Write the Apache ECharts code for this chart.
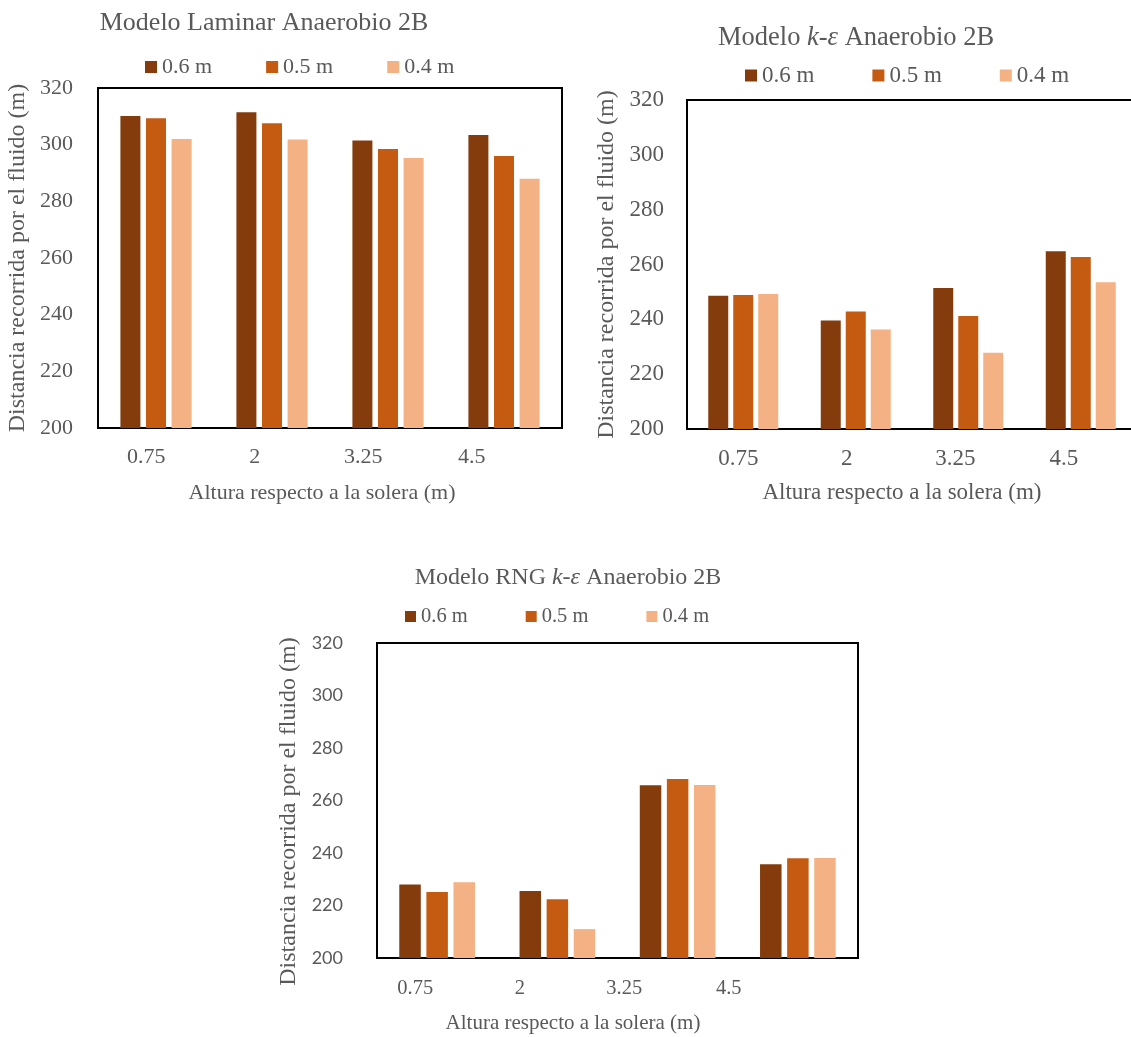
<!DOCTYPE html>
<html>
<head>
<meta charset="utf-8">
<script src="https://cdn.jsdelivr.net/npm/echarts@6/dist/echarts.min.js"></script>
<style>
  html, body { margin: 0; padding: 0; background: #fff; }
  #chart { width: 1131px; height: 1037px; }
</style>
</head>
<body>
<div id="chart"></div>
<script>
// Heights above the floor (m) at which the travelled distance was measured
const categories = ['0.75', '2', '3.25', '4.5'];
const seriesNames = ['0.6 m', '0.5 m', '0.4 m'];
const yTicks = { min: 200, max: 320, interval: 20 };

// Laminar model
const laminar06 = [310.1, 311.4, 301.5, 303.4];
const laminar05 = [309.3, 307.6, 298.5, 296.0];
const laminar04 = [302.0, 301.8, 295.3, 288.0];

// k-epsilon model
const ke06 = [248.6, 239.6, 251.4, 264.8];
const ke05 = [248.9, 242.9, 241.2, 262.7];
const ke04 = [249.2, 236.3, 227.8, 253.5];

// RNG k-epsilon model
const rng06 = [228.0, 225.5, 265.8, 235.7];
const rng05 = [225.1, 222.4, 268.2, 238.0];
const rng04 = [228.9, 211.0, 265.9, 238.1];

const colors = ['#843C0C', '#C55A11', '#F4B183'];
const serif = '"Liberation Serif", "Times New Roman", serif';
const grey = '#595959';

// Panel layout: plotting box, label band, font sizes
const panels = [
  { data: [laminar06, laminar05, laminar04], grid: { left: 98, top: 88, width: 464, height: 340 },
    labelGrid: { left: 92, width: 434 }, barWidth: 20, barGap: '28%', font: 22,
    yLabelFont: serif, yLabelSize: 22, yMargin: 25, xMargin: 18, nameGap: 68, namePad: 0 },
  { data: [ke06, ke05, ke04], grid: { left: 687, top: 100, width: 450, height: 329 },
    labelGrid: { left: 684, width: 434 }, barWidth: 20, barGap: '25%', font: 23,
    yLabelFont: serif, yLabelSize: 23, yMargin: 23, xMargin: 18, nameGap: 68, namePad: 0 },
  { data: [rng06, rng05, rng04], grid: { left: 377, top: 643, width: 481, height: 315 },
    labelGrid: { left: 363, width: 418 }, barWidth: 21.5, barGap: '26%', font: 20.5,
    yLabelFont: 'Lato, "Open Sans", sans-serif', yLabelSize: 18, yMargin: 34, xMargin: 20, nameGap: 76, namePad: 22 }
];

const grids = [], xAxes = [], yAxes = [], series = [];

panels.forEach((p, i) => {
  grids.push(Object.assign({
    show: true, borderColor: '#000', borderWidth: 2, backgroundColor: 'transparent',
    containLabel: false, outerBoundsMode: 'none'
  }, p.grid));
  xAxes.push({
    type: 'category', gridIndex: i, data: categories,
    axisLine: { show: true, lineStyle: { color: '#000', width: 2 } },
    axisTick: { show: false }, axisLabel: { show: false }, splitLine: { show: false }
  });
  yAxes.push({
    type: 'value', gridIndex: i, min: yTicks.min, max: yTicks.max, interval: yTicks.interval,
    axisLine: { show: false }, axisTick: { show: false }, splitLine: { show: false },
    axisLabel: { color: grey, fontFamily: p.yLabelFont, fontSize: p.yLabelSize, margin: p.yMargin },
    name: 'Distancia recorrida por el fluido (m)', nameLocation: 'middle', nameRotate: 90,
    nameGap: p.nameGap,
    nameTextStyle: { color: grey, fontFamily: serif, fontSize: 24, padding: [0, p.namePad, 0, 0] }
  });
  p.data.forEach((values, k) => {
    series.push({
      type: 'bar', name: seriesNames[k], xAxisIndex: i, yAxisIndex: i,
      data: values, barWidth: p.barWidth, barGap: p.barGap,
      itemStyle: { color: colors[k] }
    });
  });
});

// Category label bands under each panel
panels.forEach((p, i) => {
  grids.push({
    left: p.labelGrid.left, width: p.labelGrid.width, top: p.grid.top, height: p.grid.height,
    containLabel: false, outerBoundsMode: 'none'
  });
  xAxes.push({
    type: 'category', gridIndex: 3 + i, data: categories,
    axisLine: { show: false }, axisTick: { show: false }, splitLine: { show: false },
    axisLabel: { color: grey, fontFamily: serif, fontSize: p.font, margin: p.xMargin }
  });
  yAxes.push({ type: 'value', gridIndex: 3 + i, min: 0, max: 1, show: false });
});

const legendBase = {
  icon: 'rect', itemWidth: 12, itemHeight: 12, padding: 0,
  data: seriesNames, selectedMode: false
};
const legends = [
  Object.assign({}, legendBase, { left: 145, top: 56, itemGap: 54, textStyle: { color: grey, fontFamily: serif, fontSize: 22 } }),
  Object.assign({}, legendBase, { left: 745, top: 64, itemGap: 58, itemWidth: 12, itemHeight: 12, textStyle: { color: grey, fontFamily: serif, fontSize: 23 } }),
  Object.assign({}, legendBase, { left: 405, top: 606, itemGap: 58, itemWidth: 11, itemHeight: 11, textStyle: { color: grey, fontFamily: serif, fontSize: 20.5 } })
];

function label(x, y, text, size, rich) {
  return {
    type: 'text', x: x, y: y, silent: true,
    style: {
      text: text, fill: grey, fontFamily: serif, fontSize: size,
      align: 'center', verticalAlign: 'middle',
      textAlign: 'center', textVerticalAlign: 'middle',
      rich: rich
    }
  };
}
const italic = (size) => ({ i: { fontStyle: 'italic', fontFamily: serif, fontSize: size, fill: grey, color: grey },
                            n: { fontFamily: serif, fontSize: size, fill: grey, color: grey } });

const graphics = [
  label(264, 23, 'Modelo Laminar Anaerobio 2B', 26),
  label(856, 38, '{n|Modelo }{i|k-ε}{n| Anaerobio 2B}', 26.5, italic(26.5)),
  label(568, 578, '{n|Modelo RNG }{i|k-ε}{n| Anaerobio 2B}', 24, italic(24)),
  label(322, 493, 'Altura respecto a la solera (m)', 22),
  label(902, 493, 'Altura respecto a la solera (m)', 23),
  label(573, 1023, 'Altura respecto a la solera (m)', 21)
];

const chart = echarts.init(document.getElementById('chart'), null, { renderer: 'canvas' });
chart.setOption({
  animation: false,
  backgroundColor: '#fff',
  grid: grids,
  xAxis: xAxes,
  yAxis: yAxes,
  legend: legends,
  series: series,
  graphic: graphics
});
</script>
</body>
</html>
